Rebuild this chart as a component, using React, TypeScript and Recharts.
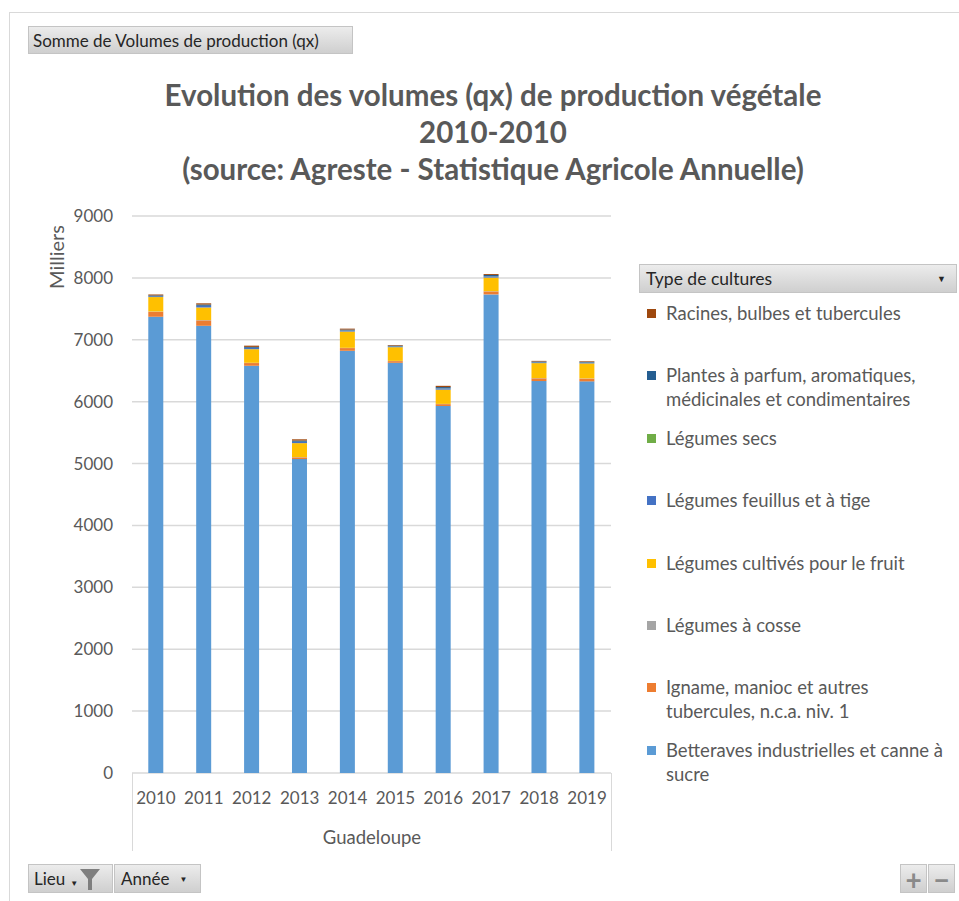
import React from 'react';
import { BarChart, Bar, XAxis, YAxis, CartesianGrid } from 'recharts';

const years = ['2010', '2011', '2012', '2013', '2014', '2015', '2016', '2017', '2018', '2019'];
const betteraves = [7372, 7226, 6580, 5073, 6822, 6628, 5930, 7733, 6333, 6328];
const igname = [80, 87, 44, 27, 44, 27, 30, 48, 44, 44];
const cosse = [5, 5, 4, 4, 4, 4, 4, 4, 4, 4];
const fruit = [233, 204, 220, 226, 263, 221, 230, 220, 242, 242];
const feuillus = [15, 25, 20, 20, 15, 12, 20, 20, 12, 12];
const secs = [2, 2, 2, 2, 2, 2, 2, 2, 2, 2];
const plantes = [10, 20, 15, 20, 15, 12, 20, 20, 12, 12];
const racines = [15, 20, 20, 20, 15, 10, 20, 15, 10, 10];

const yTicks = [0, 1000, 2000, 3000, 4000, 5000, 6000, 7000, 8000, 9000];

const seriesKeys = ['betteraves', 'igname', 'cosse', 'fruit', 'feuillus', 'secs', 'plantes', 'racines'];
const seriesNames = [
  'Betteraves industrielles et canne à sucre',
  'Igname, manioc et autres tubercules, n.c.a. niv. 1',
  'Légumes à cosse',
  'Légumes cultivés pour le fruit',
  'Légumes feuillus et à tige',
  'Légumes secs',
  'Plantes à parfum, aromatiques, médicinales et condimentaires',
  'Racines, bulbes et tubercules',
];
const seriesColors = ['#5B9BD5', '#ED7D31', '#A5A5A5', '#FFC000', '#4472C4', '#70AD47', '#255E91', '#9E480E'];
const seriesValues = [betteraves, igname, cosse, fruit, feuillus, secs, plantes, racines];

const data = years.map((y, i) => {
  const row: Record<string, string | number> = { year: y };
  seriesKeys.forEach((k, j) => {
    row[k] = seriesValues[j][i];
  });
  return row;
});

const FONT = 'Lato, "Open Sans", sans-serif';
const TEXT = '#595959';

const btn: React.CSSProperties = {
  position: 'absolute',
  background: 'linear-gradient(#ececec, #cfcfcf)',
  border: '1px solid #c4c4c4',
  boxSizing: 'border-box',
  fontFamily: FONT,
  fontSize: 17,
  color: '#262626',
  display: 'flex',
  alignItems: 'center',
  whiteSpace: 'nowrap',
};

export default function App() {
  const legendOrder = seriesKeys.map((_, i) => i).reverse();
  return (
    <div style={{ position: 'absolute', left: 0, top: 0, width: 959, height: 901, background: '#fff', overflow: 'hidden' }}>
      <div style={{ position: 'absolute', left: 9, top: 12, right: 0, bottom: 0, borderLeft: '1px solid #d9d9d9', borderTop: '1px solid #d9d9d9' }} />
      <div style={{ ...btn, left: 28, top: 26, width: 325, height: 28, paddingLeft: 4 }}>Somme de Volumes de production (qx)</div>

      <div style={{ position: 'absolute', left: 0, width: 986, top: 76, textAlign: 'center', fontFamily: FONT, fontWeight: 700, fontSize: 29.5, color: TEXT, lineHeight: '37px', whiteSpace: 'nowrap' }}>
        <div>Evolution des volumes (qx) de production végétale</div>
        <div>2010-2010</div>
        <div>(source: Agreste - Statistique Agricole Annuelle)</div>
      </div>

      <div style={{ position: 'absolute', left: 56, top: 257, transform: 'translate(-50%, -50%) rotate(-90deg)', fontFamily: FONT, fontSize: 20, color: TEXT, whiteSpace: 'nowrap' }}>Milliers</div>

      <div style={{ position: 'absolute', left: 0, top: 0 }}>
        <BarChart width={959} height={901} data={data} margin={{ top: 216, right: 348, bottom: 98, left: 72 }} barCategoryGap="34%">
          <CartesianGrid vertical={false} stroke="#d9d9d9" strokeWidth={1.5} />
          <XAxis dataKey="year" axisLine={false} tickLine={false} tickSize={0} tickMargin={19} height={30} interval={0}
            tick={{ fontFamily: FONT, fontSize: 17, fill: TEXT }} />
          <YAxis domain={[0, 9000]} ticks={yTicks} axisLine={false} tickLine={false} tickSize={0} tickMargin={19} width={60}
            tick={{ fontFamily: FONT, fontSize: 17, fill: TEXT }} />
          {seriesKeys.map((k, j) => (
            <Bar key={k} dataKey={k} name={seriesNames[j]} stackId="a" fill={seriesColors[j]} isAnimationActive={false} />
          ))}
        </BarChart>
      </div>

      <div style={{ position: 'absolute', left: 132, top: 773, width: 1, height: 78, background: '#d9d9d9' }} />
      <div style={{ position: 'absolute', left: 611, top: 773, width: 1, height: 78, background: '#d9d9d9' }} />
      <div style={{ position: 'absolute', left: 132, width: 480, top: 826, textAlign: 'center', fontFamily: FONT, fontSize: 18.5, color: TEXT }}>Guadeloupe</div>

      <div style={{ ...btn, left: 639, top: 264, width: 318, height: 29, paddingLeft: 6, justifyContent: 'space-between', paddingRight: 10, fontSize: 17.5 }}>
        <span>Type de cultures</span>
        <span style={{ fontSize: 9 }}>▼</span>
      </div>

      {legendOrder.map((j, idx) => (
        <div key={seriesKeys[j]} style={{ position: 'absolute', left: 647, top: 313 + idx * 62.4 - 12, width: 310, display: 'flex', alignItems: 'flex-start', fontFamily: FONT, fontSize: 18.5, color: TEXT, lineHeight: '24px' }}>
          <div style={{ width: 9, height: 9, background: seriesColors[j], marginTop: 8, marginRight: 10, flexShrink: 0 }} />
          <div style={{ width: 290 }}>{seriesNames[j]}</div>
        </div>
      ))}

      <div style={{ ...btn, left: 28, top: 864, width: 85, height: 29, paddingLeft: 5 }}>
        <span>Lieu</span>
        <span style={{ fontSize: 8, marginLeft: 5, marginTop: 8 }}>▼</span>
        <svg width="22" height="24" viewBox="0 0 22 24" style={{ marginLeft: 1 }}>
          <path d="M1 2 L21 2 L13 12 L13 23 L9 23 L9 12 Z" fill="#7f7f7f" />
        </svg>
      </div>
      <div style={{ ...btn, left: 114, top: 864, width: 87, height: 29, paddingLeft: 6 }}>
        <span>Année</span>
        <span style={{ fontSize: 8, marginLeft: 10 }}>▼</span>
      </div>
      <div style={{ ...btn, left: 900, top: 864, width: 27, height: 29, justifyContent: 'center', fontSize: 28, color: '#8a8a8a', fontWeight: 700 }}>+</div>
      <div style={{ ...btn, left: 928, top: 864, width: 27, height: 29, justifyContent: 'center', fontSize: 28, color: '#8a8a8a', fontWeight: 700 }}>−</div>
    </div>
  );
}
